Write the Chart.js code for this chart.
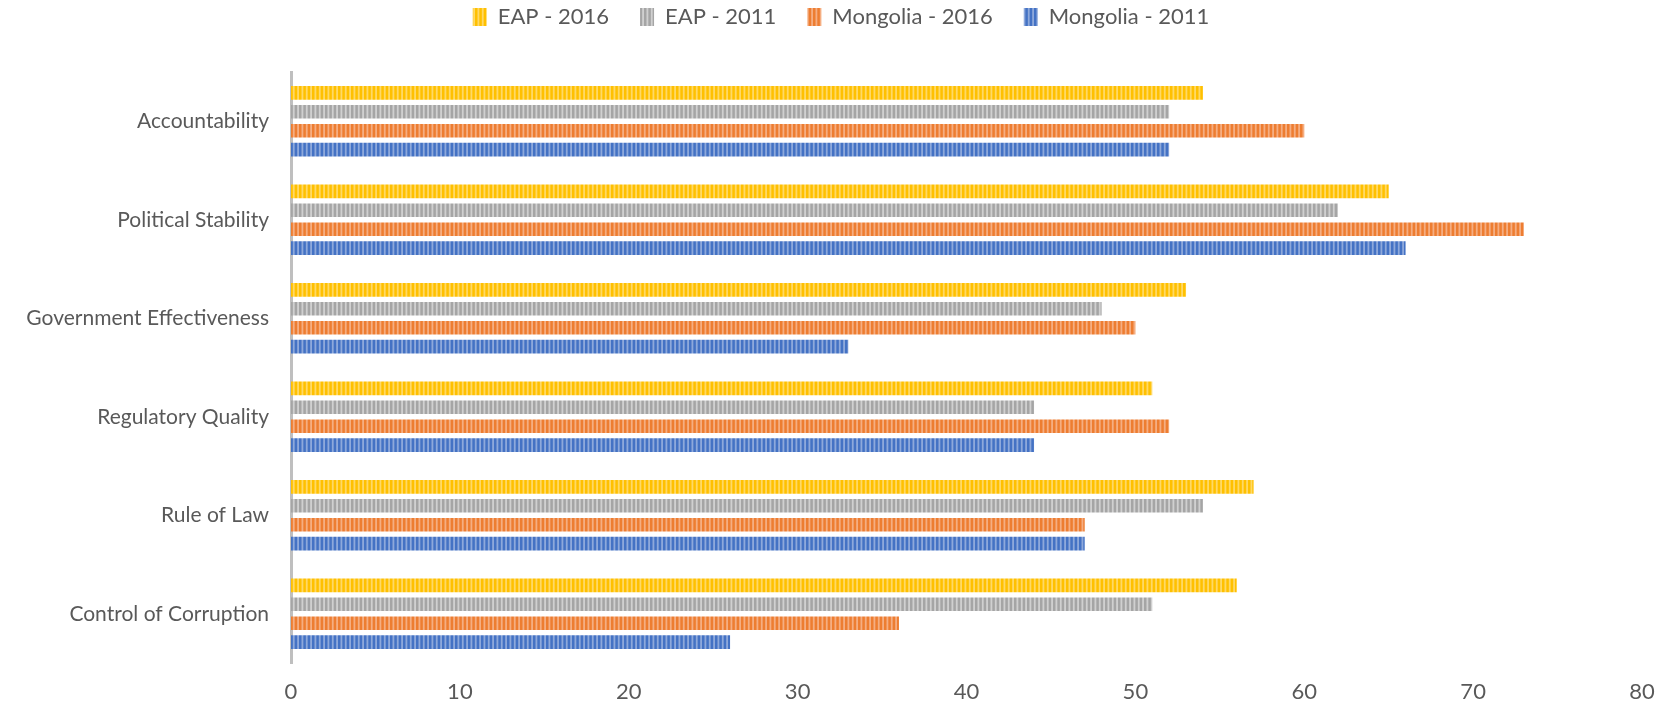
<!DOCTYPE html>
<html>
<head>
<meta charset="utf-8">
<script src="https://cdn.jsdelivr.net/npm/chart.js@4.4.1/dist/chart.umd.min.js"></script>
<style>
  html, body { margin: 0; padding: 0; background: #ffffff; }
  #wrap { width: 1673px; height: 705px; position: relative; }
</style>
</head>
<body>
<div id="wrap"><canvas id="c" width="1673" height="705"></canvas></div>
<script>
const categories = ["Accountability", "Political Stability", "Government Effectiveness", "Regulatory Quality", "Rule of Law", "Control of Corruption"];
const seriesNames = ["EAP - 2016", "EAP - 2011", "Mongolia - 2016", "Mongolia - 2011"];
const eap2016 = [54, 65, 53, 51, 57, 56];
const eap2011 = [52, 62, 48, 44, 54, 51];
const mongolia2016 = [60, 73, 50, 52, 47, 36];
const mongolia2011 = [52, 66, 33, 44, 47, 26];
const xTicks = [0, 10, 20, 30, 40, 50, 60, 70, 80];

function stripes(dark, light) {
  const c = document.createElement('canvas');
  c.width = 13; c.height = 4;
  const g = c.getContext('2d');
  g.fillStyle = light; g.fillRect(0, 0, 13, 4);
  g.fillStyle = dark;
  for (let i = 0; i < 3; i++) g.fillRect(i * 13 / 3, 0, 2.5, 4);
  return g.createPattern(c, 'repeat');
}

const fills = [
  stripes('#FFC000', '#FFD966'),
  stripes('#A5A5A5', '#D0D0D0'),
  stripes('#ED7D31', '#F5AE82'),
  stripes('#4472C4', '#8EA9DB')
];
const seriesValues = [eap2016, eap2011, mongolia2016, mongolia2011];

const textColor = '#595959';
const fontFam = "Lato, 'Open Sans', sans-serif";

const legendFix = {
  id: 'legendFix',
  beforeInit(chart) {
    const lg = chart.legend;
    if (lg) {
      const orig = lg.fit.bind(lg);
      lg.fit = function () { orig(); this.height = 99; };
      const od = lg.draw.bind(lg);
      lg.draw = function (a) {
        const ctx = chart.ctx;
        ctx.save();
        ctx.translate(20, 2);
        od(a);
        ctx.restore();
      };
    }
  }
};

new Chart(document.getElementById('c'), {
  type: 'bar',
  data: {
    labels: categories,
    datasets: seriesNames.map((n, i) => ({
      label: n,
      data: seriesValues[i],
      backgroundColor: fills[i],
      borderWidth: 0,
      categoryPercentage: 0.77,
      barPercentage: 0.72
    }))
  },
  options: {
    indexAxis: 'y',
    responsive: false,
    animation: false,
    layout: { padding: { top: -27, left: 0, right: 31, bottom: 0 } },
    plugins: {
      tooltip: { enabled: false },
      legend: {
        position: 'top',
        labels: {
          boxWidth: 14,
          boxHeight: 18,
          padding: 31,
          color: textColor,
          font: { family: fontFam, size: 22 }
        }
      }
    },
    scales: {
      x: {
        min: 0, max: 80,
        afterBuildTicks(scale) { scale.ticks = xTicks.map(v => ({ value: v })); },
        grid: { display: false, drawTicks: false },
        border: { display: false },
        ticks: { color: textColor, padding: 16, font: { family: fontFam, size: 22 } },
        afterFit(scale) { scale.height = 42; }
      },
      y: {
        grid: { display: false, drawTicks: false },
        border: { display: true, color: '#BFBFBF', width: 3 },
        ticks: { color: textColor, padding: 22, font: { family: fontFam, size: 21 } },
        afterFit(scale) { scale.width = 291; }
      }
    }
  },
  plugins: [legendFix]
});
</script>
</body>
</html>
